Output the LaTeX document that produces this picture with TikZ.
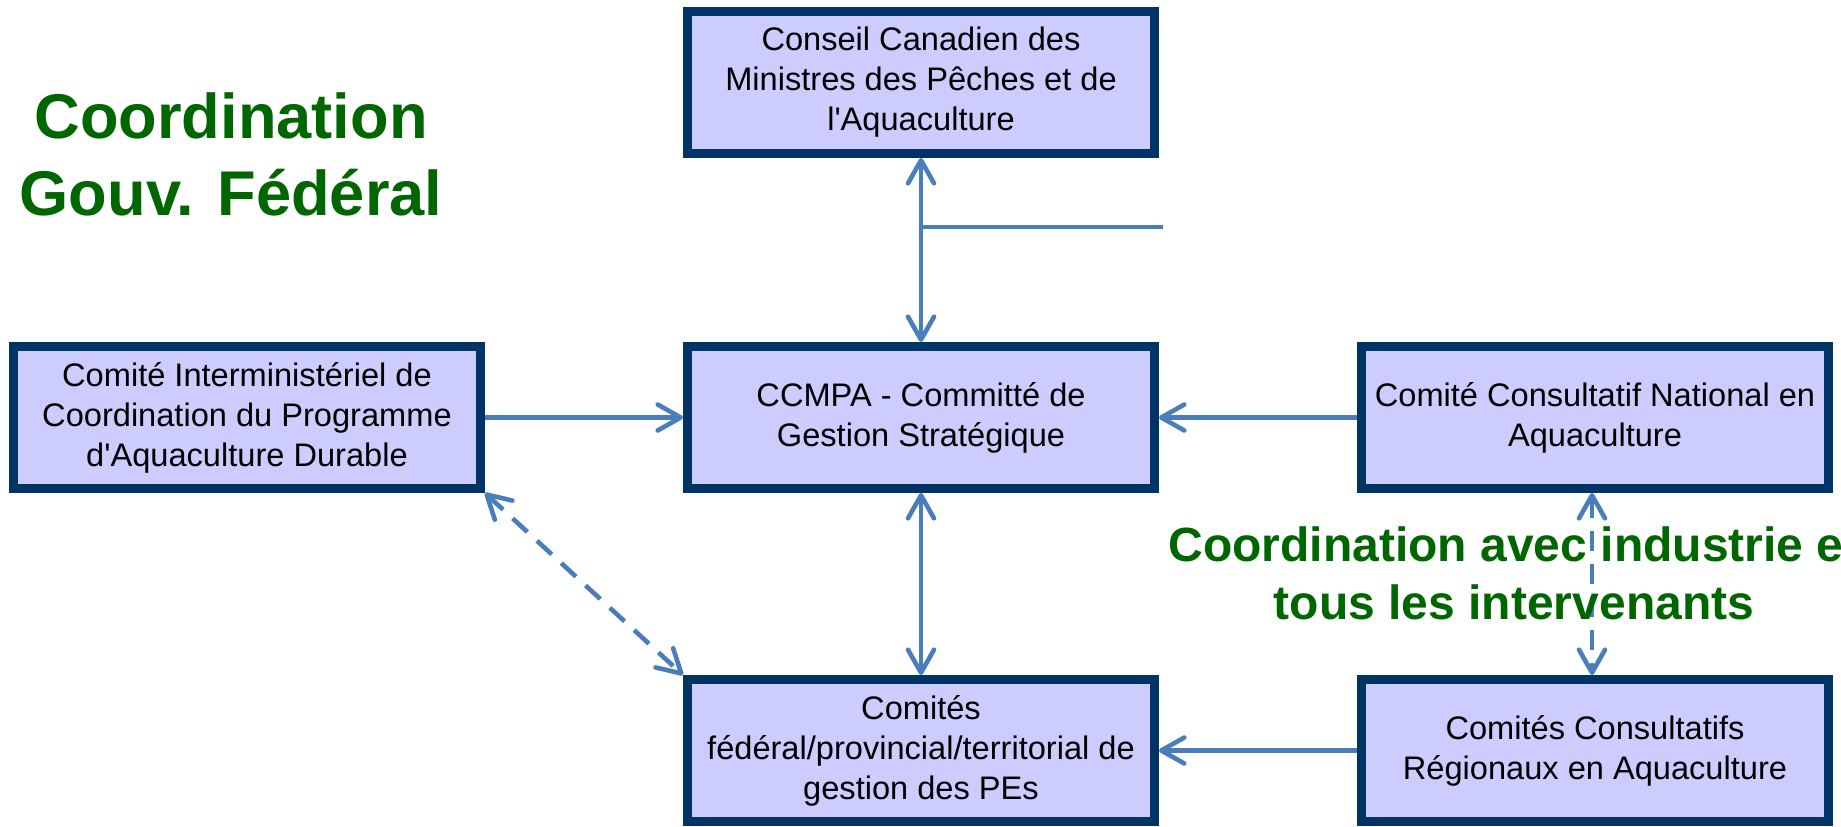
\documentclass[tikz,border=0pt]{standalone}
\usepackage{fontspec}
\newfontfamily\arial{Liberation Sans}
\usetikzlibrary{arrows.meta}
\definecolor{navy}{RGB}{0,51,102}
\definecolor{lav}{RGB}{204,204,255}
\definecolor{steel}{RGB}{74,126,187}
\definecolor{dgreen}{RGB}{0,102,0}
\begin{document}
\begin{tikzpicture}[x=0.5pt,y=-0.5pt,
  boxnode/.style={draw=navy, fill=lav, line width=4.5pt, minimum width=233.5pt,
    minimum height=71pt, inner sep=0pt, align=center, line join=miter,
    font=\arial\fontsize{16.3}{20}\selectfont},
  link/.style={draw=steel, line width=2.3pt},
  dlink/.style={link, dash pattern=on 10pt off 6.5pt},
  >={Straight Barb[length=11.5pt,width=13pt,round]},
  gtitle/.style={text=dgreen, align=center, inner sep=0pt}]
\fill[white] (0,0) rectangle (1841,826);
\useasboundingbox (0,0) rectangle (1841,826);
\clip (0,0) rectangle (1841,826);

\node[boxnode] (cc) at (921,82.5) {Conseil Canadien des\\Ministres des Pêches et de\\l'Aquaculture};
\node[boxnode] (cid) at (247,417.5) {Comité Interministériel de\\Coordination du Programme\\d'Aquaculture Durable};
\node[boxnode] (ccmpa) at (921,417.5) {CCMPA - Committé de\\Gestion Stratégique};
\node[boxnode] (ccna) at (1595,417.5) {Comité Consultatif National en\\Aquaculture};
\node[boxnode] (fpt) at (921,750.5) {Comités\\fédéral/provincial/territorial de\\gestion des PEs};
\node[boxnode] (ccra) at (1595,750.5) {Comités Consultatifs\\Régionaux en Aquaculture};

\coordinate (j) at (921,227);
\coordinate (hl) at (1163,227);

\draw[link,<->] (cc.south) -- (ccmpa.north);
\draw[link] (j) -- (hl);
\draw[link,->] (cid.east) -- (ccmpa.west);
\draw[link,->] (ccna.west) -- (ccmpa.east);
\draw[link,<->] (ccmpa.south) -- (fpt.north);
\draw[dlink,<->] (cid.south east) -- (fpt.north west);
\draw[dlink,<->] ([xshift=-1.5pt]ccna.south) -- ([xshift=-1.5pt]ccra.north);
\draw[link,->] (ccra.west) -- (fpt.east);

\node[gtitle, anchor=north, font=\arial\bfseries\fontsize{31.6}{38.5}\selectfont] (t1) at (231,92) {Coordination\\Gouv. Fédéral};
\node[gtitle, anchor=north, font=\arial\bfseries\fontsize{24}{29}\selectfont] (t2) at (1514,526) {Coordination avec industrie et\\tous les intervenants};
\end{tikzpicture}
\end{document}
